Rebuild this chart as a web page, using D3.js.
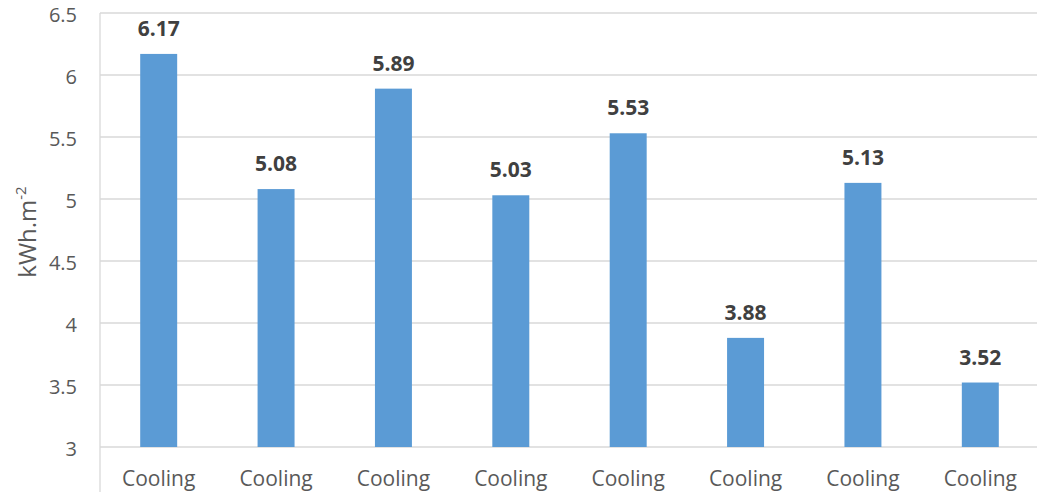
<!DOCTYPE html>
<html>
<head>
<meta charset="utf-8">
<script src="https://cdn.jsdelivr.net/npm/d3@7"></script>
<style>
  html, body { margin: 0; padding: 0; background: #fff; }
  svg { display: block; }
</style>
</head>
<body>
<svg id="chart" width="1037" height="492"></svg>
<script>
// Cooling energy use per scenario (kWh per square metre)
const categories = ["Cooling", "Cooling", "Cooling", "Cooling", "Cooling", "Cooling", "Cooling", "Cooling"];
const values = [6.17, 5.08, 5.89, 5.03, 5.53, 3.88, 5.13, 3.52];
const yTicks = [3, 3.5, 4, 4.5, 5, 5.5, 6, 6.5];

const W = 1037, H = 492;
const margin = { left: 100, right: -2, top: 13, bottom: 45 };
const plotW = W - margin.left - margin.right;
const plotH = H - margin.top - margin.bottom;
const font = "'Open Sans', 'Noto Sans', sans-serif";

const svg = d3.select("#chart");
const g = svg.append("g").attr("transform", `translate(${margin.left},${margin.top})`);

const x = d3.scaleBand()
  .domain(d3.range(values.length))
  .range([0, plotW])
  .paddingInner(0.685)
  .paddingOuter(0.3425);

const y = d3.scaleLinear().domain([3, 6.5]).range([plotH, 0]);

// horizontal gridlines
g.append("g")
  .selectAll("line")
  .data(yTicks)
  .join("line")
  .attr("x1", 0).attr("x2", plotW)
  .attr("y1", d => y(d)).attr("y2", d => y(d))
  .attr("stroke", "#d9d9d9").attr("stroke-width", 1.3);

// left border of plot area, running down through the category band
g.append("line")
  .attr("x1", 0).attr("x2", 0)
  .attr("y1", 0).attr("y2", H - margin.top)
  .attr("stroke", "#d9d9d9").attr("stroke-width", 1.3);

// y axis tick labels
const yAxis = d3.axisLeft(y).tickValues(yTicks).tickSize(0).tickPadding(23)
  .tickFormat(d => String(d));
const ya = g.append("g").call(yAxis);
ya.select(".domain").remove();
ya.selectAll("text")
  .attr("dy", "0.42em")
  .attr("font-family", font).attr("font-size", 20).attr("fill", "#595959");

// category labels
const xAxis = d3.axisBottom(x).tickSize(0).tickPadding(24).tickFormat(i => categories[i]);
const xa = g.append("g").attr("transform", `translate(0,${plotH})`).call(xAxis);
xa.select(".domain").remove();
xa.selectAll("text")
  .attr("font-family", font).attr("font-size", 21).attr("fill", "#595959");

// bars
g.append("g")
  .selectAll("rect")
  .data(values)
  .join("rect")
  .attr("x", (d, i) => x(i))
  .attr("width", x.bandwidth())
  .attr("y", d => y(d))
  .attr("height", d => plotH - y(d))
  .attr("fill", "#5b9bd5");

// value labels
g.append("g")
  .selectAll("text")
  .data(values)
  .join("text")
  .attr("x", (d, i) => x(i) + x.bandwidth() / 2)
  .attr("y", d => y(d) - 18)
  .attr("text-anchor", "middle")
  .attr("font-family", font).attr("font-size", 21).attr("font-weight", "bold")
  .attr("fill", "#404040")
  .text(d => d.toFixed(2));

// y axis title
const title = svg.append("text")
  .attr("transform", `translate(36,232) rotate(-90)`)
  .attr("text-anchor", "middle")
  .attr("font-family", font).attr("font-size", 24).attr("fill", "#595959");
title.append("tspan").text("kWh.m");
title.append("tspan").attr("baseline-shift", "super").attr("font-size", 15).text("-2");
</script>
</body>
</html>
